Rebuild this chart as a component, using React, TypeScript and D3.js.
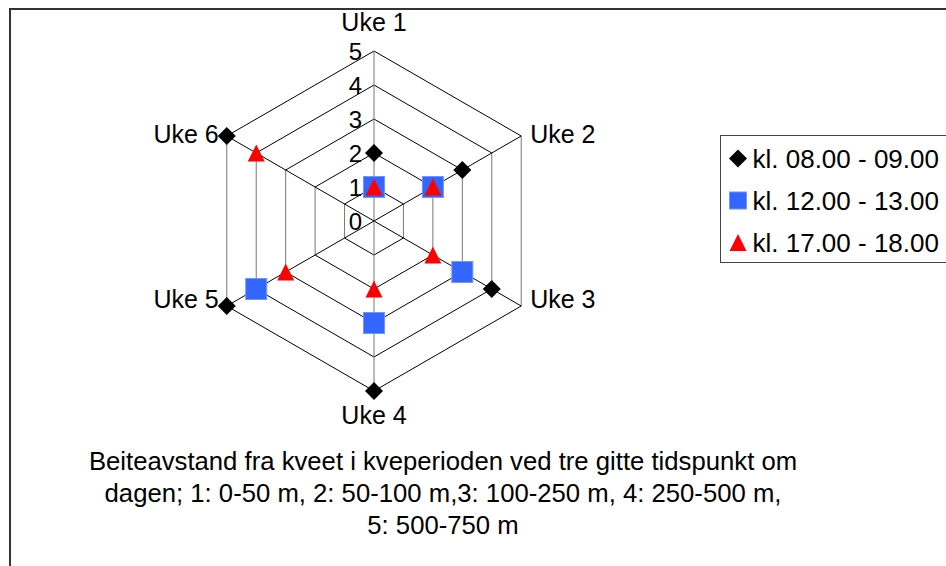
// App.tsx
// radar chart of grazing distance per week, drawn with d3 scales
import * as d3 from 'd3';
import React from 'react';

const categories = ["Uke 1", "Uke 2", "Uke 3", "Uke 4", "Uke 5", "Uke 6"];
const levels = [0, 1, 2, 3, 4, 5];
const morning = [2, 3, 4, 5, 5, 5];          // kl. 08.00 - 09.00
const midday = [1, 2, 3, 3, 4, null];       // kl. 12.00 - 13.00
const evening = [1, 2, 2, 2, 3, 4];          // kl. 17.00 - 18.00
const seriesNames = ["kl. 08.00 - 09.00", "kl. 12.00 - 13.00", "kl. 17.00 - 18.00"];
const captionLines = [
    "Beiteavstand fra kveet i kveperioden ved tre gitte tidspunkt om",
    "dagen; 1: 0-50 m, 2: 50-100 m,3: 100-250 m, 4: 250-500 m,",
    "5: 500-750 m",
];

const W = 946, H = 566;
const cx = 374, cy = 221;
const font = "'Liberation Sans', Arial, sans-serif";

function Marker({ kind, x, y, big }: { kind: number, x: number, y: number, big: boolean }) {
    if (kind === 0) {
        const s = 9;
        return <path d={`M${x},${y - s}L${x + s},${y}L${x},${y + s}L${x - s},${y}Z`} fill="#000" />;
    }
    if (kind === 1) {
        const s = big ? 10.5 : 8.5;
        return <rect x={x - s} y={y - s} width={s * 2} height={s * 2} fill="#3366FF" stroke="#7393ff" strokeWidth={1} />;
    }
    const s = 8.5;
    return <path d={`M${x},${y - s}L${x + s},${y + s}L${x - s},${y + s}Z`} fill="#FF0000" />;
}

export default function App() {
    const r = d3.scaleLinear().domain([0, 5]).range([0, 170]);
    const angle = d3.scaleLinear().domain([0, categories.length]).range([0, 2 * Math.PI]);
    const pt = (i: number, v: number) => {
        const a = angle(i);
        return [cx + r(v) * Math.sin(a), cy - r(v) * Math.cos(a)];
    };
    const series = [morning, midday, evening];
    // vertical lines look grey in the original (anti aliased)
    const lineColor = (x1: number, x2: number) => Math.abs(x1 - x2) < 0.5 ? "#777" : "#000";

    return (
        <svg width={W} height={H} style={{ position: "absolute", left: 0, top: 0, background: "#fff" }}
            fontFamily={font}>
            <rect x={10} y={9} width={W + 10} height={H + 10} fill="#fff" stroke="#333" strokeWidth={2} />

            {/* grid rings */}
            {levels.slice(1).map(v => (
                <g key={v}>
                    {categories.map((c, i) => {
                        const [x1, y1] = pt(i, v);
                        const [x2, y2] = pt((i + 1) % categories.length, v);
                        return <line key={c} x1={x1} y1={y1} x2={x2} y2={y2} stroke={lineColor(x1, x2)} strokeWidth={1} />;
                    })}
                </g>
            ))}
            {/* spokes */}
            {categories.map((c, i) => {
                const [x, y] = pt(i, 5);
                return <line key={c} x1={cx} y1={cy} x2={x} y2={y} stroke={lineColor(cx, x)} strokeWidth={1} />;
            })}
            {/* tick labels */}
            {levels.map(v => (
                <text key={v} x={cx - 12} y={cy - r(v) + 8.5} textAnchor="end" fontSize={24}>{v}</text>
            ))}
            {/* category labels */}
            {categories.map((c, i) => {
                const [x, y] = pt(i, 5);
                const a = angle(i);
                const s = Math.sin(a), co = Math.cos(a);
                let anchor = "middle", tx = x, ty = y;
                if (Math.abs(s) < 0.01) {
                    ty = co > 0 ? y - 20 : y + 33;
                } else {
                    anchor = s > 0 ? "start" : "end";
                    tx = x + (s > 0 ? 9 : -8);
                    ty = co > 0 ? y + 7 : y + 2;
                }
                return <text key={c} x={tx} y={ty} textAnchor={anchor} fontSize={25}>{c}</text>;
            })}
            {/* markers */}
            {series.map((vals, k) => (
                <g key={k}>
                    {vals.map((v, i) => {
                        if (v == null) return null;
                        const [x, y] = pt(i, v);
                        return <Marker key={i} kind={k} x={x} y={y} big={true} />;
                    })}
                </g>
            ))}

            {/* legend */}
            <rect x={720.5} y={135.5} width={240} height={127} fill="#fff" stroke="#444" strokeWidth={1} />
            {seriesNames.map((n, k) => {
                const yy = 158.5 + k * 42;
                return (
                    <g key={n}>
                        <Marker kind={k} x={738} y={yy} big={false} />
                        <text x={752.5} y={yy + 9} fontSize={26}>{n}</text>
                    </g>
                );
            })}

            {/* caption */}
            {captionLines.map((l, i) => (
                <text key={i} x={443} y={469.5 + i * 32.3} textAnchor="middle" fontSize={25.7}>{l}</text>
            ))}
        </svg>
    );
}
